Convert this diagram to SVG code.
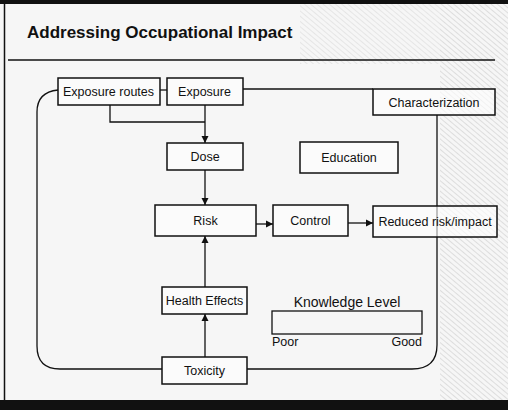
<svg xmlns="http://www.w3.org/2000/svg" width="508" height="410" viewBox="0 0 508 410">
<style>
.box{fill:#fff;fill-opacity:0.6;stroke:#111;stroke-width:1.5}
.lbl{font-family:"Liberation Sans",Arial,sans-serif;font-size:12.5px;fill:#111;text-anchor:middle}
.ln{fill:none;stroke:#111;stroke-width:1.3}
</style>
<defs>
<marker id="ah" markerWidth="8" markerHeight="8" refX="7" refY="4" orient="auto" markerUnits="userSpaceOnUse">
<path d="M0,0.5 L7,4 L0,7.5 Z" fill="#111"/>
</marker>
<pattern id="hatch" width="4" height="4" patternUnits="userSpaceOnUse" patternTransform="rotate(-50)">
<line x1="0" y1="0" x2="0" y2="4" stroke="#888" stroke-width="1"/>
</pattern>
</defs>
<rect x="0" y="0" width="508" height="410" fill="#f6f6f6"/>
<rect x="440" y="4" width="68" height="396" fill="url(#hatch)" opacity="0.45"/>
<rect x="300" y="4" width="140" height="60" fill="url(#hatch)" opacity="0.3"/>
<rect x="0" y="0" width="508" height="4" fill="#111"/>
<rect x="0" y="400" width="508" height="10" fill="#111"/>
<line x1="4.5" y1="4" x2="4.5" y2="400" stroke="#111" stroke-width="1.5"/>
<text x="27" y="38" font-family="'Liberation Sans',Arial,sans-serif" font-size="17" font-weight="bold" fill="#111">Addressing Occupational Impact</text>
<line x1="8" y1="60" x2="495" y2="60" stroke="#111" stroke-width="1.3"/>

<g id="connectors">
<line class="ln" x1="160" y1="90" x2="167" y2="90"/>
<line class="ln" x1="243" y1="89" x2="373" y2="89"/>
<polyline class="ln" points="110,105 110,122 205,122"/>
<line class="ln" x1="205" y1="105" x2="205" y2="143" marker-end="url(#ah)"/>
<line class="ln" x1="205" y1="170" x2="205" y2="205" marker-end="url(#ah)"/>
<line class="ln" x1="256" y1="224" x2="273" y2="224" marker-end="url(#ah)"/>
<line class="ln" x1="348" y1="223" x2="373" y2="223" marker-end="url(#ah)"/>
<line class="ln" x1="205" y1="287" x2="205" y2="236" marker-end="url(#ah)"/>
<line class="ln" x1="205" y1="357" x2="205" y2="314" marker-end="url(#ah)"/>
<path class="ln" d="M58,90 Q37,92 37,112 L37,346 Q37,369 60,369 L162,369"/>
<path class="ln" d="M437,115 L437,345 Q437,369 412,369 L247,369"/>
</g>

<g id="exposure-routes"><rect class="box" x="58" y="78" width="102" height="27"/><text class="lbl" x="108.5" y="96">Exposure routes</text></g>
<g id="exposure"><rect class="box" x="167" y="78" width="76" height="27"/><text class="lbl" x="204.5" y="96">Exposure</text></g>
<g id="characterization"><rect class="box" x="373" y="89" width="122" height="26"/><text class="lbl" x="434" y="106.5">Characterization</text></g>
<g id="dose"><rect class="box" x="167" y="143" width="76" height="27"/><text class="lbl" x="205" y="161">Dose</text></g>
<g id="education"><rect class="box" x="300" y="142" width="98" height="31"/><text class="lbl" x="349" y="162">Education</text></g>
<g id="risk"><rect class="box" x="155" y="205" width="101" height="31"/><text class="lbl" x="205.5" y="225">Risk</text></g>
<g id="control"><rect class="box" x="273" y="205" width="75" height="31"/><text class="lbl" x="310.5" y="225">Control</text></g>
<g id="reduced"><rect class="box" x="373" y="206" width="124" height="31"/><text class="lbl" x="435" y="226">Reduced risk/impact</text></g>
<g id="health-effects"><rect class="box" x="162" y="287" width="85" height="27"/><text class="lbl" x="204.5" y="305">Health Effects</text></g>
<g id="toxicity"><rect class="box" x="162" y="357" width="85" height="27"/><text class="lbl" x="204.5" y="375">Toxicity</text></g>
<g id="knowledge">
<text x="347" y="307" font-family="'Liberation Sans',Arial,sans-serif" font-size="14" fill="#111" text-anchor="middle">Knowledge Level</text>
<rect x="272" y="311" width="150" height="23" fill="none" stroke="#111" stroke-width="1.3"/>
<text x="272" y="346" font-family="'Liberation Sans',Arial,sans-serif" font-size="12.5" fill="#111">Poor</text>
<text x="422" y="346" font-family="'Liberation Sans',Arial,sans-serif" font-size="12.5" fill="#111" text-anchor="end">Good</text>
</g>
</svg>
